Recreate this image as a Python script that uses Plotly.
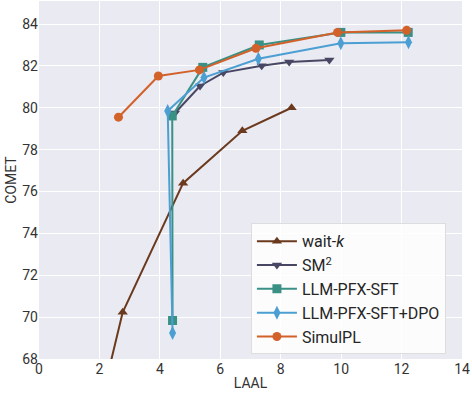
import plotly.graph_objects as go

waitk_x = [2.2, 2.77, 4.77, 6.73, 8.36]
waitk_y = [66.8, 70.23, 76.4, 78.9, 80.0]

sm2_x = [4.5, 5.33, 6.1, 7.37, 8.28, 9.61]
sm2_y = [79.75, 81.04, 81.68, 82.01, 82.19, 82.28]

sft_x = [4.42, 4.41, 5.42, 7.29, 9.99, 12.22]
sft_y = [69.84, 79.61, 81.93, 83.0, 83.6, 83.6]

dpo_x = [4.42, 4.26, 5.46, 7.26, 9.99, 12.23]
dpo_y = [69.24, 79.85, 81.44, 82.34, 83.08, 83.13]

simulpl_x = [2.63, 3.95, 5.31, 7.18, 9.88, 12.17]
simulpl_y = [79.55, 81.52, 81.81, 82.84, 83.6, 83.7]

x_ticks = [0, 2, 4, 6, 8, 10, 12, 14]
y_ticks = [68, 70, 72, 74, 76, 78, 80, 82, 84]

series = [
    ("wait-<i>k</i>", waitk_x, waitk_y, "#6b3a1e", "triangle-up", 9),
    ("SM<sup>2</sup>", sm2_x, sm2_y, "#474763", "triangle-down", 9),
    ("LLM-PFX-SFT", sft_x, sft_y, "#3a9085", "square", 9),
    ("LLM-PFX-SFT+DPO", dpo_x, dpo_y, "#4b9fd2", "diamond-tall", 10),
    ("SimulPL", simulpl_x, simulpl_y, "#d2612a", "circle", 9),
]

fig = go.Figure()
for name, xs, ys, color, sym, size in series:
    fig.add_trace(go.Scatter(
        x=xs, y=ys, name=name, mode="lines+markers",
        line=dict(color=color, width=2),
        marker=dict(symbol=sym, size=size, color=color),
        cliponaxis=True,
    ))

font_family = "Roboto, sans-serif"
fig.update_layout(
    width=472, height=398,
    margin=dict(l=39, r=10, t=1, b=39),
    paper_bgcolor="white",
    plot_bgcolor="#EAEAF2",
    font=dict(family=font_family, size=14, color="#333333"),
    showlegend=True,
    legend=dict(
        x=0.501, y=0.013, xanchor="left", yanchor="bottom",
        bgcolor="rgba(255,255,255,0.85)",
        bordercolor="#dddddd", borderwidth=1,
        font=dict(size=16, color="#262626"),
        itemwidth=40,
    ),
    xaxis=dict(
        range=[0, 14], tickvals=x_ticks, showgrid=True, gridcolor="white",
        gridwidth=1.2, zeroline=False, showline=False, ticks="",
        automargin=False,
        title=dict(text="LAAL", standoff=2, font=dict(size=14)),
        tickfont=dict(size=14),
    ),
    yaxis=dict(
        range=[68, 85.1], tickvals=y_ticks, showgrid=True, gridcolor="white",
        gridwidth=1.2, zeroline=False, showline=False, ticks="",
        automargin=False,
        title=dict(text="COMET", standoff=2, font=dict(size=14)),
        tickfont=dict(size=14),
    ),
)

fig.write_html("out.html", config={"displayModeBar": False},
               post_script="document.body.style.margin='0px';")
